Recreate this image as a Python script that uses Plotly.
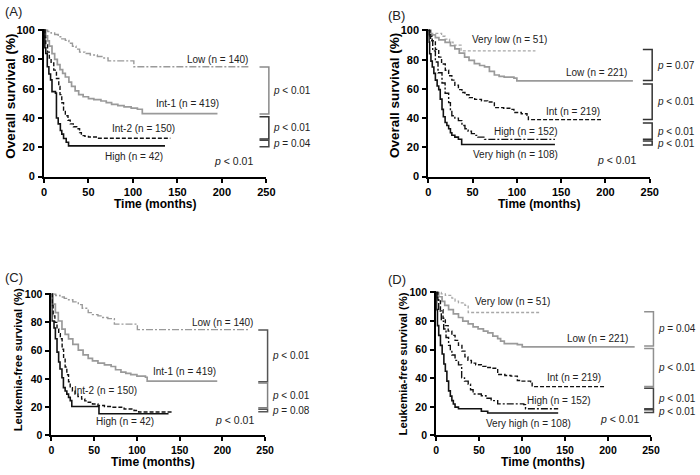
import plotly.graph_objects as go

W, H = 700, 475

# ---------------- data ----------------
time_ticks = [0, 50, 100, 150, 200, 250]
surv_ticks = [0, 20, 40, 60, 80, 100]

# Panel A: overall survival, 4 groups
A_low_t = [0, 4, 8, 12, 16, 20, 24, 28, 32, 36, 40, 46, 52, 60, 66, 72, 101, 231]
A_low_s = [100, 99, 98, 97, 95.5, 94, 93, 91, 89, 87, 85, 84, 83, 82, 81, 79, 75, 75]
A_int1_t = [0, 2, 4, 6, 9, 12, 15, 18, 21, 24, 28, 31, 35, 39, 44, 50, 56, 64, 70, 76, 83, 90, 98, 105, 110.5, 195]
A_int1_s = [100, 96, 92.7, 89, 84, 80, 76.5, 73, 70.5, 68, 64.5, 61.6, 58.5, 56, 54.5, 53.3, 52.5, 51.6, 50.5, 49.3, 48.5, 47.6, 46.8, 46, 43, 43]
A_int2_t = [0, 1, 2, 4, 6, 8, 11, 14, 16.6, 18, 20, 22, 24, 27, 29.5, 33, 36.8, 40, 42, 46, 50, 60, 142]
A_int2_s = [100, 95, 90, 85, 81, 77.5, 72.7, 67, 61.5, 56, 50.4, 45.5, 41.5, 38.5, 36, 34, 32.7, 30, 28, 27.5, 27, 26.2, 26.2]
A_high_t = [0, 1, 2, 3.7, 5.5, 7.4, 9, 12.9, 14, 16, 18.4, 20, 22, 25, 27.6, 136]
A_high_s = [100, 88, 84, 75, 70, 66, 58, 57, 40, 36, 31.5, 29, 26, 23.5, 21, 21]
A_labels = ["Low (n = 140)", "Int-1 (n = 419)", "Int-2 (n = 150)", "High (n = 42)"]
A_pvals = ["p < 0.01", "p < 0.01", "p = 0.04"]
A_br_hi = [74.9, 40.9, 24.9]
A_br_lo = [42.7, 25.6, 20.4]

# Panel B: overall survival, 5 groups
B_vlow_t = [0, 2, 15, 19, 24, 28, 37, 121]
B_vlow_s = [100, 98, 96, 94, 92, 90, 86, 86]
B_low_t = [0, 3, 8, 12, 19, 25, 30, 35, 41, 46, 52, 58, 63.5, 69, 74.6, 80, 85.7, 96.7, 100, 231]
B_low_s = [100, 97, 95, 93.5, 91.8, 89.5, 87.3, 84.5, 81.7, 79.5, 77.3, 76, 75, 72, 69.5, 68.5, 68, 67.3, 65.5, 65.5]
B_int_t = [0, 2, 4.4, 8, 11.8, 15, 19.2, 23, 26.6, 30, 34, 38, 41.4, 46, 52.4, 60, 67, 74.6, 85, 93, 96.7, 105, 111.5, 113, 195]
B_int_s = [100, 96, 92.9, 87, 81.7, 77, 72.8, 69, 66, 62.5, 59.5, 57.5, 56, 54, 52.8, 51.8, 51, 47.2, 46.8, 46, 43.9, 43, 42, 39, 39]
B_high_t = [0, 1, 2.6, 5, 8, 11, 15.5, 19, 23, 25, 26.6, 30, 34, 38, 41.4, 45, 48.7, 52, 56, 63.5, 143]
B_high_s = [100, 97, 93, 86, 78.4, 71, 64, 57, 50.6, 45, 41.6, 40, 38.3, 35, 32.7, 31, 29.4, 28.2, 27, 25.5, 25.5]
B_vhigh_t = [0, 0.8, 1.5, 3, 4.5, 6.3, 8, 10, 11.8, 13.5, 15.5, 17, 19, 21, 23, 25, 26.6, 30, 34, 37.7, 143]
B_vhigh_s = [100, 92, 84, 79, 75, 70.6, 66, 62, 59.5, 53, 46, 41, 37, 35, 32.7, 30, 28.3, 27, 25.6, 22, 22]
B_labels = ["Very low (n = 51)", "Low (n = 221)", "Int (n = 219)", "High (n = 152)", "Very high (n = 108)"]
B_pvals = ["p = 0.07", "p < 0.01", "p < 0.01", "p < 0.01"]
B_br_hi = [86.9, 63.3, 36.7, 24.3]
B_br_lo = [65.7, 39.0, 25.6, 21.6]

# Panel C: leukemia-free survival, 4 groups
C_low_t = [0, 5, 10, 15, 20, 25, 31.4, 36, 43, 48, 54.4, 60, 66, 73.6, 100.5, 230]
C_low_s = [100, 99, 98, 97, 96, 94.5, 92.6, 90, 86.9, 85.5, 84.6, 83.5, 82.7, 78.8, 74.9, 74.9]
C_int1_t = [0, 2, 4.6, 8, 12.3, 16, 20, 25, 31.4, 37, 43, 48, 54.4, 62, 69.8, 75, 81.3, 87, 92.8, 100, 110, 112, 194]
C_int1_s = [100, 93, 86.9, 81, 75.3, 71.5, 68.4, 64.5, 60.4, 57, 54.6, 52.8, 51.2, 50, 48.8, 46.5, 44.9, 44, 43, 42, 41.2, 38.5, 38.5]
C_int2_t = [0, 1, 2, 4, 6.5, 8.5, 10.4, 12.5, 14.2, 16, 18, 20, 21.9, 24.5, 27.6, 31, 35.3, 39, 43, 48, 54.4, 62, 69.8, 85, 96.6, 102, 142]
C_int2_s = [100, 92, 84.6, 80, 75.3, 72, 68.4, 61, 54.6, 48.5, 43, 38, 33.9, 31.5, 29.3, 27.5, 25.8, 24.5, 23.5, 22.3, 21.2, 20.5, 20, 18.7, 17.7, 16.6, 16.6]
C_high_t = [0, 0.5, 3, 4.6, 6.5, 8.4, 10, 12.3, 14, 16, 18, 20, 22, 23.8, 55.6, 137]
C_high_s = [100, 81, 76, 68.4, 59, 52, 47, 40.8, 33.9, 31.5, 29.3, 27, 24.7, 20.5, 15.4, 15.4]
C_labels = ["Low (n = 140)", "Int-1 (n = 419)", "Int-2 (n = 150)", "High (n = 42)"]
C_pvals = ["p < 0.01", "p < 0.01", "p = 0.08"]
C_br_hi = [74.7, 37.1, 18.5]
C_br_lo = [38.0, 19.6, 16.8]

# Panel D: leukemia-free survival, 5 groups
D_vlow_t = [0, 6, 10.7, 18.3, 22, 26, 33.5, 37.3, 121]
D_vlow_s = [100, 99, 98, 96, 94, 92.7, 91, 86, 86]
D_low_t = [0, 3, 6.9, 10, 14.5, 20, 26, 31, 37.3, 43, 48.8, 55, 60.2, 66, 71.6, 75, 79.3, 94.5, 100.2, 231]
D_low_s = [100, 97, 93.8, 91, 88, 85, 82.5, 80, 78, 76, 74.5, 73, 71.8, 69.5, 67.7, 66, 64.2, 63.6, 62, 62]
D_int_t = [0, 2, 5, 8, 10.7, 14, 18.3, 22, 26, 30, 33.5, 37, 41, 46, 52.6, 58, 64, 71.6, 80, 87, 94.5, 100, 110, 111.7, 195.5]
D_int_s = [100, 94, 88, 82, 76.8, 73, 70, 66.5, 63, 59, 55, 52.5, 50.6, 49.5, 48.3, 47.5, 47, 42.6, 42, 41.5, 38.5, 38, 37.6, 34.2, 34.2]
D_high_t = [0, 1, 3, 6, 8.8, 11.5, 14.5, 16.5, 18.3, 22, 26, 29.7, 33, 37.3, 40, 43, 52.6, 58, 64, 71.6, 102, 104, 142]
D_high_s = [100, 95, 87, 80, 74.5, 68.5, 63, 59.5, 56.3, 52.5, 49.4, 40.3, 38, 35.8, 32, 29, 27.8, 26, 24.4, 22.1, 21.6, 18.7, 18.7]
D_vhigh_t = [0, 0.5, 1.5, 3, 5, 7, 9, 10.7, 12.5, 14.5, 16.5, 18.3, 20, 22, 26, 52.6, 60, 142]
D_vhigh_s = [100, 88, 76.8, 70, 63, 57, 50, 44.9, 38, 31.2, 27.5, 24.4, 22, 19.8, 18.7, 17, 15.7, 15.7]
D_labels = ["Very low (n = 51)", "Low (n = 221)", "Int (n = 219)", "High (n = 152)", "Very high (n = 108)"]
D_pvals = ["p = 0.04", "p < 0.01", "p < 0.01", "p < 0.01"]
D_br_hi = [86.6, 60.8, 33.0, 18.0]
D_br_lo = [62.6, 34.2, 18.7, 16.0]

overall_p = "p < 0.01"

# ---------------- styles / layout ----------------
GRAY = "#9a9a9a"
BLK = "#111111"
STY = {
    "g_dashdot": dict(color=GRAY, dash="7px,2px,2px,2px", width=1.4),
    "g_solid": dict(color=GRAY, dash="solid", width=1.7),
    "k_dash": dict(color=BLK, dash="4px,2px", width=1.4),
    "k_solid": dict(color=BLK, dash="solid", width=1.6),
    "g_dot": dict(color="#a8a8a8", dash="3px,2px", width=1.3),
    "k_dashdot": dict(color=BLK, dash="7px,2px,2px,2px", width=1.4),
}
FONT = "Liberation Sans, Arial, sans-serif"

panels = [
    dict(letter="(A)", letter_px=(0, 7), box=(41.7, 268.0, 25.7, 175.7),
         ytitle="Overall survival (%)", ytitle_px=(8, 93), ytitle_size=13.5,
         xtitle_px=(154.5, 204), xtitle_size=12, tick_size=11,
         series=[(A_low_t, A_low_s, "g_dashdot"), (A_int1_t, A_int1_s, "g_solid"),
                 (A_int2_t, A_int2_s, "k_dash"), (A_high_t, A_high_s, "k_solid")],
         labels=A_labels, label_pos=[(232, 79.8), (199, 50), (149, 32.7), (136, 13.8)],
         pvals=A_pvals, br_hi=A_br_hi, br_lo=A_br_lo,
         br_colors=["#8a8a8a", "#333333", "#444444"], overall_pos=(189, 11)),
    dict(letter="(B)", letter_px=(390, 11), box=(432.7, 658.0, 26.0, 175.7),
         ytitle="Overall survival (%)", ytitle_px=(399, 93), ytitle_size=13.5,
         xtitle_px=(545, 204), xtitle_size=12, tick_size=11,
         series=[(B_vlow_t, B_vlow_s, "g_dot"), (B_low_t, B_low_s, "g_solid"),
                 (B_int_t, B_int_s, "k_dash"), (B_high_t, B_high_s, "k_dashdot"),
                 (B_vhigh_t, B_vhigh_s, "k_solid")],
         labels=B_labels, label_pos=[(136, 94), (227, 71.3), (196, 44.5), (149, 31), (149, 14.9)],
         pvals=B_pvals, br_hi=B_br_hi, br_lo=B_br_lo,
         br_colors=["#333333", "#333333", "#333333", "#333333"], overall_pos=(188.6, 11.6)),
    dict(letter="(C)", letter_px=(0, 279), box=(49.3, 266.7, 296.0, 440.7),
         ytitle="Leukemia-free survival (%)", ytitle_px=(14.7, 363.3), ytitle_size=11.3,
         xtitle_px=(152.7, 468), xtitle_size=12.2, tick_size=10.5,
         series=[(C_low_t, C_low_s, "g_dashdot"), (C_int1_t, C_int1_s, "g_solid"),
                 (C_int2_t, C_int2_s, "k_dash"), (C_high_t, C_high_s, "k_solid")],
         labels=C_labels, label_pos=[(237.7, 80), (195, 45), (102.4, 32), (122, 9.7)],
         pvals=C_pvals, br_hi=C_br_hi, br_lo=C_br_lo,
         br_colors=["#555555", "#808080", "#555555"], overall_pos=(188.6, 10.8)),
    dict(letter="(D)", letter_px=(390, 281), box=(440.7, 659.3, 294.3, 440.7),
         ytitle="Leukemia-free survival (%)", ytitle_px=(406.7, 367.3), ytitle_size=11.3,
         xtitle_px=(549.3, 468), xtitle_size=12.2, tick_size=10.5,
         series=[(D_vlow_t, D_vlow_s, "g_dot"), (D_low_t, D_low_s, "g_solid"),
                 (D_int_t, D_int_s, "k_dash"), (D_high_t, D_high_s, "k_dashdot"),
                 (D_vhigh_t, D_vhigh_s, "k_solid")],
         labels=D_labels, label_pos=[(134.5, 93.4), (226, 67.7), (194, 40.3), (182, 24.8), (159, 8.4)],
         pvals=D_pvals, br_hi=D_br_hi, br_lo=D_br_lo,
         br_colors=["#909090", "#909090", "#444444", "#444444"], overall_pos=(188, 11.4)),
]

YMAX = 101.0


def px_x(px):
    return px / W


def px_y(py):
    return 1 - py / H


def ptxt(s):
    s = s.replace("<", "&lt;")
    return "<i>p</i>" + s[1:]


fig = go.Figure()
annotations = []
shapes = []
layout_axes = {}

for i, p in enumerate(panels):
    n = i + 1
    xa = "x" if n == 1 else f"x{n}"
    ya = "y" if n == 1 else f"y{n}"
    left, right, top, bottom = p["box"]
    ppu = (bottom - top) / 100.0
    top_ext = bottom - YMAX * ppu

    for t, s, key in p["series"]:
        st = STY[key]
        fig.add_trace(go.Scatter(
            x=t, y=s, mode="lines", xaxis=xa, yaxis=ya, showlegend=False,
            line=dict(shape="hv", color=st["color"], dash=st["dash"], width=st["width"]),
            hoverinfo="skip"))

    axis_common = dict(showline=True, linewidth=2, linecolor="black", ticks="outside",
                       ticklen=4, tickwidth=2, tickcolor="black", showgrid=False,
                       zeroline=False, fixedrange=True,
                       tickfont=dict(family=FONT, size=p["tick_size"], color="black", weight="bold"))
    layout_axes["xaxis" if n == 1 else f"xaxis{n}"] = dict(
        axis_common, domain=[px_x(left), px_x(right)], range=[0, 250],
        tickvals=time_ticks, anchor=ya, ticklabelstandoff=0)
    layout_axes["yaxis" if n == 1 else f"yaxis{n}"] = dict(
        axis_common, domain=[px_y(bottom), px_y(top_ext)], range=[0, YMAX],
        tickvals=surv_ticks, anchor=xa, ticklabelstandoff=1)

    # curve labels
    for lab, (lx, ly) in zip(p["labels"], p["label_pos"]):
        annotations.append(dict(x=lx, y=ly, xref=xa, yref=ya, text=lab, showarrow=False,
                                xanchor="right", yanchor="middle",
                                font=dict(family=FONT, size=10, color="#222222")))
    # overall p
    ox, oy = p["overall_pos"]
    annotations.append(dict(x=ox, y=oy, xref=xa, yref=ya, text=ptxt(overall_p), showarrow=False,
                            xanchor="left", yanchor="middle",
                            font=dict(family=FONT, size=10.5, color="#222222")))
    # brackets
    x_tick0 = px_x(right - 7)
    x_vert = px_x(right + 2.5)
    x_lab = right + 5
    for hi, lo, pv, col in zip(p["br_hi"], p["br_lo"], p["pvals"], p["br_colors"]):
        yh = px_y(bottom - hi * ppu)
        yl = px_y(bottom - lo * ppu)
        shapes.append(dict(type="path", xref="paper", yref="paper",
                           path=f"M {x_tick0},{yh} L {x_vert},{yh} L {x_vert},{yl} L {x_tick0},{yl}",
                           line=dict(color=col, width=1.5)))
        annotations.append(dict(x=px_x(x_lab), y=(yh + yl) / 2, xref="paper", yref="paper",
                                text=ptxt(pv), showarrow=False, xanchor="left", yanchor="middle",
                                font=dict(family=FONT, size=10, color="#222222")))
    # axis titles
    tx, ty = p["xtitle_px"]
    annotations.append(dict(x=px_x(tx), y=px_y(ty), xref="paper", yref="paper",
                            text="<b>Time (months)</b>", showarrow=False,
                            xanchor="center", yanchor="middle",
                            font=dict(family=FONT, size=p["xtitle_size"], color="black")))
    yx, yy = p["ytitle_px"]
    annotations.append(dict(x=px_x(yx), y=px_y(yy), xref="paper", yref="paper",
                            text="<b>" + p["ytitle"] + "</b>", showarrow=False, textangle=-90,
                            xanchor="center", yanchor="middle",
                            font=dict(family=FONT, size=p["ytitle_size"], color="black")))
    # panel letter
    lx, ly = p["letter_px"]
    annotations.append(dict(x=px_x(lx), y=px_y(ly), xref="paper", yref="paper",
                            text=p["letter"], showarrow=False, xanchor="left", yanchor="middle",
                            font=dict(family=FONT, size=13, color="#222222")))

fig.update_layout(
    width=W, height=H, margin=dict(l=0, r=0, t=0, b=0),
    paper_bgcolor="white", plot_bgcolor="white",
    annotations=annotations, shapes=shapes, **layout_axes)

fig.write_html("out.html", config=dict(displayModeBar=False),
               post_script="document.body.style.margin='0';document.body.style.padding='0';")
